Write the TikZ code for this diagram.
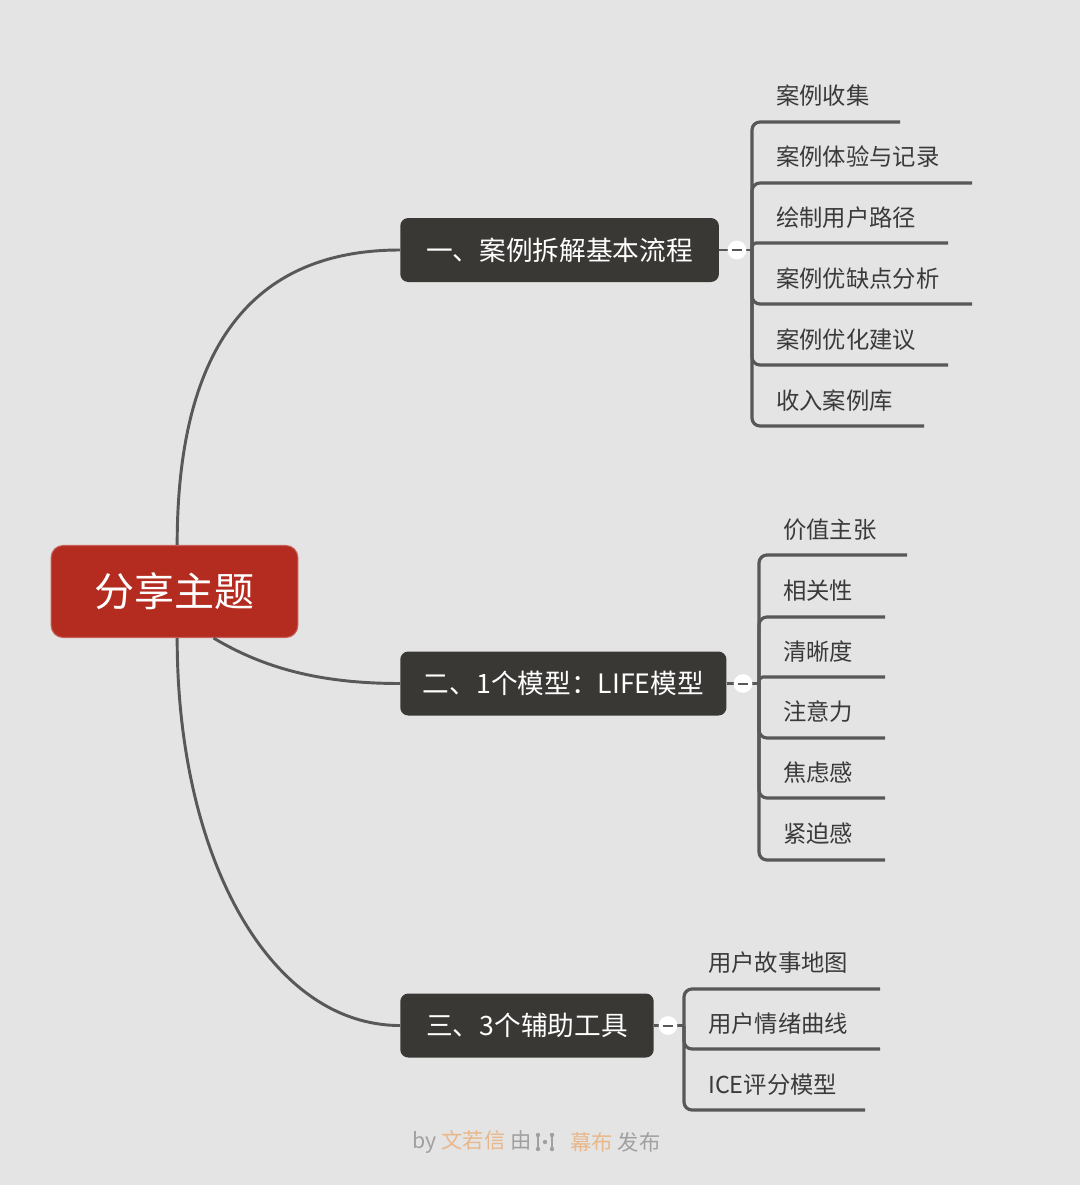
\documentclass[tikz,border=0pt]{standalone}
\usepackage{fontspec}
\setmainfont{Noto Sans CJK SC}
\usepackage{xcolor}
\definecolor{bgpaper}{RGB}{228,228,228}
\definecolor{rootred}{RGB}{180,43,32}
\definecolor{boxdark}{RGB}{57,56,52}
\definecolor{wiregray}{RGB}{88,88,88}
\definecolor{leaftext}{RGB}{58,58,58}
\definecolor{credgray}{RGB}{160,160,160}
\definecolor{credorange}{RGB}{232,184,138}

\begin{document}
\begin{tikzpicture}[x=0.75pt,y=-0.75pt,
	rootbox/.style={fill=rootred,draw=rootred!75!white,line width=0.8pt,rounded corners=9pt,minimum width=185pt,minimum height=69pt,text=white,font=\fontsize{30}{36}\selectfont},
	topic/.style={fill=boxdark,rounded corners=6pt,minimum height=48pt,inner xsep=19.5pt,text=white,font=\fontsize{20}{24}\selectfont,anchor=west},
	leaf/.style={anchor=west,inner sep=0pt,text=leaftext,font=\fontsize{17.5}{21}\selectfont},
	link/.style={draw=wiregray,line width=2.2pt},
	underline/.style={draw=wiregray,line width=2.4pt,rounded corners=6pt},
	fold/.style={circle,fill=white,minimum size=14pt,inner sep=0pt,
		path picture={\draw[wiregray,line width=1.5pt] ([xshift=-4pt]path picture bounding box.center) -- ([xshift=4pt]path picture bounding box.center);}},
	credit/.style={inner sep=0pt,font=\fontsize{16}{19}\selectfont}]

		\fill[bgpaper] (0,0) rectangle (1080,1185);
		\useasboundingbox (0,0) rectangle (1080,1185);

\node[rootbox] (root) at (174.5,591.5) {分享主题};

\node[topic] (b1) at (400,250) {一、案例拆解基本流程};
\node[topic,inner xsep=17pt] (b2) at (400,683.5) {二、1个模型：LIFE模型};
\node[topic] (b3) at (400,1025.5) {三、3个辅助工具};

\draw[link] ([xshift=2pt]root.north) .. controls +(0,-220) and +(-130,0) .. (b1.west);
\draw[link] (root.-50) .. controls +(50,30) and +(-80,0) .. (b2.west);
\draw[link] ([xshift=2pt]root.south) .. controls +(0,220) and +(-130,0) .. (b3.west);

\coordinate (j1) at (752,250);
\node[leaf] (c11) at (776,96) {案例收集};
\node[leaf] (c12) at (776,157) {案例体验与记录};
\node[leaf] (c13) at (776,218) {绘制用户路径};
\node[leaf] (c14) at (776,279) {案例优缺点分析};
\node[leaf] (c15) at (776,340) {案例优化建议};
\node[leaf] (c16) at (776,401) {收入案例库};
\coordinate (u11) at (900,122);
\coordinate (u12) at (972,183);
\coordinate (u13) at (948,243);
\coordinate (u14) at (972,304);
\coordinate (u15) at (948,365);
\coordinate (u16) at (924,426);
\draw[link] (b1.east) -- (j1);
\draw[underline] (j1) |- (u11);
\draw[underline] (j1) |- (u12);
\draw[underline,rounded corners=3pt] (j1) |- (u13);
\draw[underline] (j1) |- (u14);
\draw[underline] (j1) |- (u15);
\draw[underline] (j1) |- (u16);
\node[fold] (f1) at (737,250) {};

\coordinate (j2) at (759,683.5);
\node[leaf] (c21) at (783,530) {价值主张};
\node[leaf] (c22) at (783,591) {相关性};
\node[leaf] (c23) at (783,652) {清晰度};
\node[leaf] (c24) at (783,712) {注意力};
\node[leaf] (c25) at (783,773) {焦虑感};
\node[leaf] (c26) at (783,834) {紧迫感};
\coordinate (u21) at (907,555);
\coordinate (u22) at (885,617);
\coordinate (u23) at (885,677);
\coordinate (u24) at (885,738);
\coordinate (u25) at (885,798);
\coordinate (u26) at (885,860);
\draw[link] (b2.east) -- (j2);
\draw[underline] (j2) |- (u21);
\draw[underline] (j2) |- (u22);
\draw[underline,rounded corners=3pt] (j2) |- (u23);
\draw[underline] (j2) |- (u24);
\draw[underline] (j2) |- (u25);
\draw[underline] (j2) |- (u26);
\node[fold] (f2) at (743,683.5) {};

\coordinate (j3) at (684,1025.5);
\node[leaf] (c31) at (708,963) {用户故事地图};
\node[leaf] (c32) at (708,1024) {用户情绪曲线};
\node[leaf] (c33) at (708,1085) {ICE评分模型};
\coordinate (u31) at (880,989);
\coordinate (u32) at (880,1049);
\coordinate (u33) at (865,1110);
\draw[link] (b3.east) -- (j3);
\draw[underline] (j3) |- (u31);
\draw[underline] (j3) |- (u32);
\draw[underline] (j3) |- (u33);
\node[fold] (f3) at (668,1025.5) {};

\node[credit,anchor=east] (byline) at (532,1142) {\color{credgray}by \color{credorange}文若信 \color{credgray}由};
\node[credit,anchor=west] (publine) at (570,1142) {\color{credorange}幕布 \color{credgray}发布};
\draw[credgray,line width=1.6pt,line cap=round] (538,1135) -- (538,1149);
\draw[credgray,line width=1.6pt,line cap=round] (552,1135) -- (552,1149);
\fill[credgray] (545,1142) circle (2.2);
\fill[credgray] (538,1135) circle (2.2) (538,1149) circle (2.2) (552,1135) circle (2.2) (552,1149) circle (2.2);
		\end{tikzpicture}
\end{document}
